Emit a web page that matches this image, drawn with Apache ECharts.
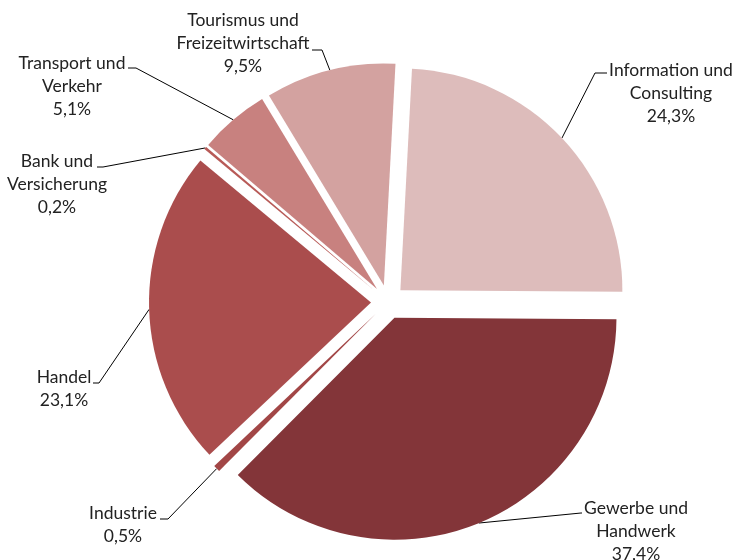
<!DOCTYPE html>
<html><head><meta charset="utf-8">
<script src="https://cdn.jsdelivr.net/npm/echarts@6/dist/echarts.min.js"></script>
<style>html,body{margin:0;padding:0;background:#fff}#c{width:736px;height:560px}</style>
</head><body><div id="c"></div>
<script>
const categories = ['Information und\nConsulting','Gewerbe und\nHandwerk','Industrie','Handel','Bank und\nVersicherung','Transport und\nVerkehr','Tourismus und\nFreizeitwirtschaft'];
const values = [24.3, 37.4, 0.5, 23.1, 0.2, 5.1, 9.5];
const colors = ['#DDBCBB','#833539','#A24646','#AA4D4D','#B85A57','#C8817F','#D3A2A0'];

// layout only: label centre x, first-line centre y, leader attach x/y, elbow x
const labelCx   = [671, 636, 123, 64, 57, 72, 243];
const labelLine1 = [70, 508, 513, 377, 161, 63.5, 20];
const attachPts = [[607,73,595],[582,513,581],[160,519,168],[93,383,99],[97,167,103],[128,68,136],[312,50,322]];

const CENTER = [388, 302], R = 222, OFFSET = 17, LH = 23;

const chart = echarts.init(document.getElementById('c'));
const fmt = v => v.toFixed(1).replace('.', ',') + '%';

chart.setOption({
  animation: false,
  backgroundColor: '#fff',
  series: [{
    type: 'pie',
    silent: true,
    center: CENTER,
    radius: R,
    startAngle: 87,
    clockwise: true,
    selectedMode: 'multiple',
    selectedOffset: OFFSET,
    label: { show: false },
    labelLine: { show: false },
    data: categories.map((n, i) => ({
      name: n, value: values[i], selected: true,
      itemStyle: { color: colors[i] },
      select: { itemStyle: { color: colors[i] } }
    }))
  }, {
    type: 'pie',
    silent: true,
    center: CENTER,
    radius: R + OFFSET,
    startAngle: 87,
    clockwise: true,
    avoidLabelOverlap: false,
    itemStyle: { color: 'rgba(0,0,0,0)' },
    data: categories.map((n, i) => ({ name: n, value: values[i] })),
    label: {
      show: true,
      position: 'outside',
      fontFamily: 'Lato',
      fontSize: 17.5,
      lineHeight: LH,
      color: '#222',
      align: 'center',
      formatter: p => p.name + '\n' + fmt(p.value)
    },
    labelLine: { show: true, lineStyle: { color: '#000', width: 1 } },
    labelLayout: function (params) {
      const i = params.dataIndex;
      const a = attachPts[i];
      const anchor = params.labelLinePoints ? params.labelLinePoints[0] : null;
      return {
        x: labelCx[i], y: labelLine1[i] - LH / 2,
        align: 'center', verticalAlign: 'top',
        labelLinePoints: anchor ? [anchor, [a[2], a[1]], [a[0], a[1]]] : undefined
      };
    }
  }]
});
</script></body></html>
